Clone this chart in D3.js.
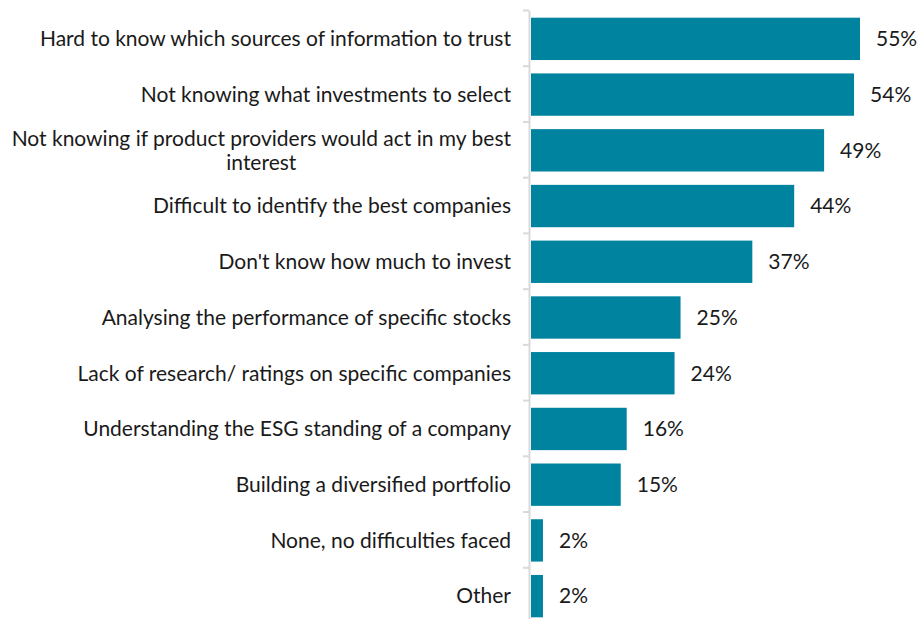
<!DOCTYPE html>
<html>
<head>
<meta charset="utf-8">
<script src="https://cdn.jsdelivr.net/npm/d3@7"></script>
<style>
  body { margin: 0; background: #fff; }
  text { font-family: Lato, "Open Sans", sans-serif; fill: #1a1a1a; }
</style>
</head>
<body>
<div id="chart"></div>
<script>
const categories = [
  "Hard to know which sources of information to trust",
  "Not knowing what investments to select",
  "Not knowing if product providers would act in my best interest",
  "Difficult to identify the best companies",
  "Don't know how much to invest",
  "Analysing the performance of specific stocks",
  "Lack of research/ ratings on specific companies",
  "Understanding the ESG standing of a company",
  "Building a diversified portfolio",
  "None, no difficulties faced",
  "Other"
];
const values = [55, 54, 49, 44, 37, 25, 24, 16, 15, 2, 2];

const W = 919, H = 619;
const margin = { top: 11, left: 531 };
const plotH = 613;
const labelWidth = 506;

const svg = d3.select("#chart").append("svg")
  .attr("width", W)
  .attr("height", H);

const g = svg.append("g")
  .attr("transform", "translate(" + margin.left + "," + margin.top + ")");

// scales
const y = d3.scaleBand().domain(categories).range([0, plotH]).paddingInner(0.24).paddingOuter(0.12);
const x = d3.scaleLinear().domain([0, 55]).range([0, 329]);

// bars
g.selectAll("rect.bar")
  .data(values)
  .enter().append("rect")
  .attr("class", "bar")
  .attr("x", 0)
  .attr("y", (d, i) => y(categories[i]))
  .attr("width", d => x(d))
  .attr("height", y.bandwidth())
  .attr("fill", "#00839f");

// axis line and boundary ticks
g.append("line")
  .attr("x1", -1.5).attr("x2", -1.5)
  .attr("y1", 0).attr("y2", plotH)
  .attr("stroke", "#d9d9d9").attr("stroke-width", 2);

const step = y.step();
g.selectAll("line.tick")
  .data(d3.range(categories.length + 1))
  .enter().append("line")
  .attr("class", "tick")
  .attr("x1", -8).attr("x2", -1.5)
  .attr("y1", i => i * step - 0.5)
  .attr("y2", i => i * step - 0.5)
  .attr("stroke", "#d9d9d9").attr("stroke-width", 2);

// value labels
g.selectAll("text.val")
  .data(values)
  .enter().append("text")
  .attr("class", "val")
  .attr("x", d => x(d) + 16)
  .attr("y", (d, i) => y(categories[i]) + y.bandwidth() / 2)
  .attr("dy", "0.35em")
  .style("font-size", "21px")
  .text(d => d + "%");

// category labels, wrapped (wrapped lines centred on each other, block right-aligned)
const labels = g.selectAll("text.cat")
  .data(categories)
  .enter().append("text")
  .attr("class", "cat")
  .attr("text-anchor", "end")
  .style("font-size", "21px");

labels.each(function (d) {
  const t = d3.select(this);
  const words = d.split(" ");
  const lines = [];
  let line = [];
  const probe = t.append("tspan");
  let maxW = 0;
  words.forEach(w => {
    line.push(w);
    probe.text(line.join(" "));
    const len = probe.node().getComputedTextLength();
    if (len > labelWidth && line.length > 1) {
      line.pop();
      probe.text(line.join(" "));
      maxW = Math.max(maxW, probe.node().getComputedTextLength());
      lines.push(line.join(" "));
      line = [w];
    }
  });
  lines.push(line.join(" "));
  probe.remove();
  const cy = y(d) + y.bandwidth() / 2;
  const lh = 24;
  let lx = -20;
  if (lines.length > 1) {
    t.attr("text-anchor", "middle");
    lx = -20 - maxW / 2;
  }
  lines.forEach((l, k) => {
    t.append("tspan")
      .attr("x", lx)
      .attr("y", cy + (k - (lines.length - 1) / 2) * lh)
      .attr("dy", "0.35em")
      .text(l);
  });
});
</script>
</body>
</html>
